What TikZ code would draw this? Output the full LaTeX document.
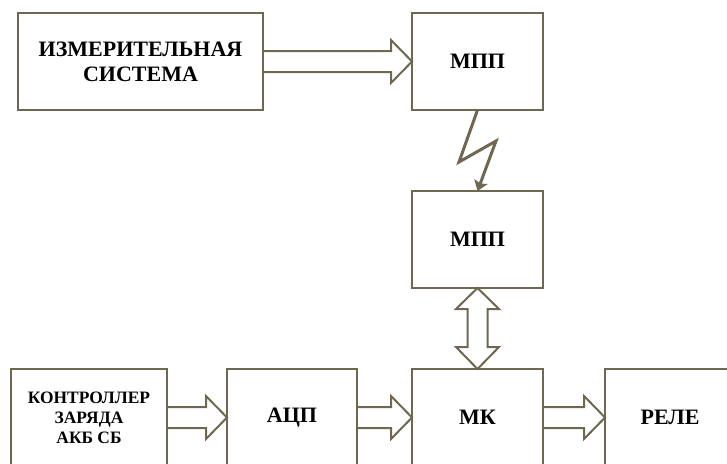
\documentclass[tikz,border=0pt]{standalone}
\usepackage{fontspec}
\setmainfont{Liberation Serif}
\usetikzlibrary{calc,arrows.meta}
\definecolor{linec}{RGB}{110,104,82}
\tikzset{
  blk/.style={draw=linec, line width=2pt, rectangle, inner sep=0pt, outer sep=0pt, align=center, font=\bfseries\fontsize{22}{25}\selectfont},
  blks/.style={blk, font=\bfseries\fontsize{17.4}{20}\selectfont},
  conn/.style={draw=linec, line width=2pt, line join=miter},
  zap/.style={draw=linec, line width=3pt, -{Stealth[length=10pt,width=14pt,inset=2pt]}},
}
\newcommand\blockR[2]{%
  \draw[conn] ($(#1.east)+(0,-10.5)$) -- ($(#2.west)+(-21,-10.5)$) -- ($(#2.west)+(-21,-21.5)$) -- (#2.west)
   -- ($(#2.west)+(-21,21.5)$) -- ($(#2.west)+(-21,10.5)$) -- ($(#1.east)+(0,10.5)$);}
\begin{document}
\begin{tikzpicture}[x=1pt,y=-1pt]
\clip (0,0) rectangle (727,463);
\node[blk, minimum width=245pt, minimum height=97pt] (ims) at (140.5,61.5) {ИЗМЕРИТЕЛЬНАЯ\\СИСТЕМА};
\node[blk, minimum width=131pt, minimum height=97pt] (mpp1) at (477.5,61.5) {МПП};
\node[blk, minimum width=131pt, minimum height=97pt] (mpp2) at (477.5,239.5) {МПП};
\node[blks, minimum width=156pt, minimum height=97pt] (ctrl) at (89,417.5) {КОНТРОЛЛЕР\\ЗАРЯДА\\АКБ СБ};
\node[blk, minimum width=130pt, minimum height=97pt] (adc) at (292,417.5) {АЦП};
\node[blk, minimum width=131pt, minimum height=97pt] (mk) at (477.5,417.5) {МК};
\node[blk, minimum width=130pt, minimum height=97pt] (rele) at (670,417.5) {РЕЛЕ};
\blockR{ims}{mpp1}
\blockR{ctrl}{adc}
\blockR{adc}{mk}
\blockR{mk}{rele}
\draw[zap] (mpp1.south) -- (459,162) -- (496,141) -- (mpp2.north);
\draw[conn] (mpp2.south) -- ($(mpp2.south)+(21.5,21)$) -- ($(mpp2.south)+(10,21)$) -- ($(mk.north)+(10,-22)$)
  -- ($(mk.north)+(21.5,-22)$) -- (mk.north) -- ($(mk.north)+(-21.5,-22)$) -- ($(mk.north)+(-10,-22)$)
  -- ($(mpp2.south)+(-10,21)$) -- ($(mpp2.south)+(-21.5,21)$) -- cycle;
\end{tikzpicture}
\end{document}
